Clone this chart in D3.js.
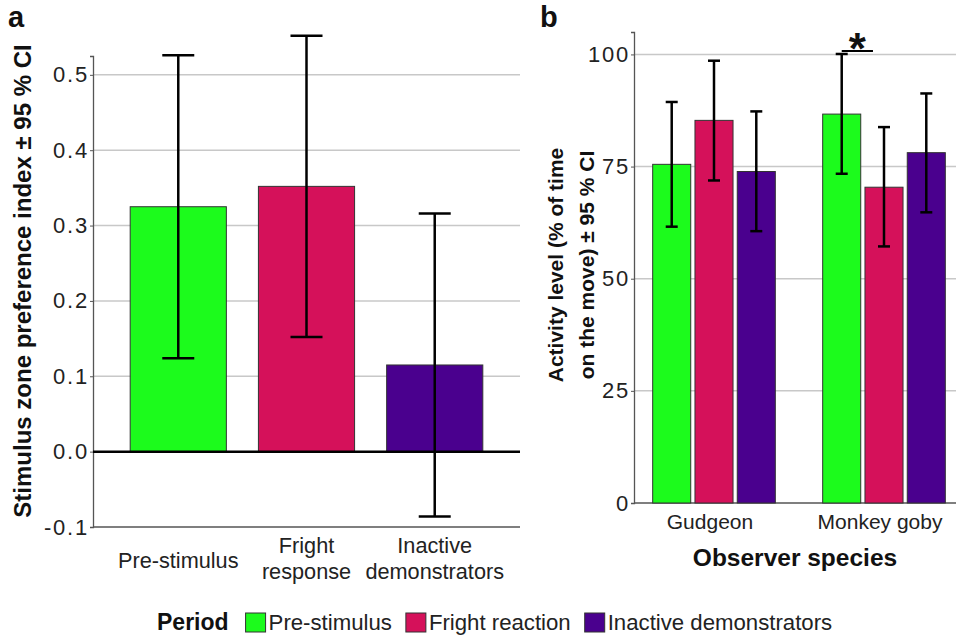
<!DOCTYPE html>
<html>
<head>
<meta charset="utf-8">
<script src="https://cdn.jsdelivr.net/npm/d3@7"></script>
<style>
  body { margin: 0; background: #fff; }
  svg { font-family: "Liberation Sans", Arial, sans-serif; }
  .tick text { font-size: 22px; fill: #222; letter-spacing: 1.8px; }
  .bold { font-weight: bold; fill: #111; }
</style>
</head>
<body>
<div id="chart"></div>
<script>
const width = 956;
const height = 636;

// panel a data
const periodsA = ['Pre-stimulus', 'Fright response', 'Inactive demonstrators'];
const prefMean = [0.325, 0.352, 0.115];
const prefLow = [0.124, 0.152, -0.086];
const prefHigh = [0.526, 0.552, 0.316];
const ticksA = [-0.1, 0.0, 0.1, 0.2, 0.3, 0.4, 0.5];

// panel b data
const species = ['Gudgeon', 'Monkey goby'];
const periods = ['Pre-stimulus', 'Fright reaction', 'Inactive demonstrators'];
const actMean = [[75.5, 85.3, 73.9], [86.7, 70.4, 78.1]];
const actLow = [[61.6, 71.9, 60.6], [73.4, 57.2, 64.8]];
const actHigh = [[89.4, 98.6, 87.3], [100.1, 83.8, 91.3]];
const ticksB = [0, 25, 50, 75, 100];

const colors = ['#1cfb1c', '#d5115a', '#4a008e'];

const svg = d3.select('#chart')
    .append('svg')
    .attr('width', width)
    .attr('height', height);

// ---------- panel a ----------
const xA = d3.scaleBand()
    .domain(periodsA)
    .range([93, 520])
    .paddingInner(0.25)
    .paddingOuter(0.29);
const yA = d3.scaleLinear()
    .domain([-0.1, 0.525])
    .range([527, 56]);

svg.append('g')
    .selectAll('line')
    .data(ticksA.filter(d => d > 0))
    .enter()
    .append('line')
    .attr('x1', 93).attr('x2', 520)
    .attr('y1', d => yA(d)).attr('y2', d => yA(d))
    .attr('stroke', '#c8c8c8')
    .attr('stroke-width', 1.5);

const yAxisA = d3.axisLeft(yA)
    .tickValues(ticksA)
    .tickFormat(d => d.toFixed(1))
    .tickSize(3)
    .tickPadding(1);
const yAxisAG = svg.append('g')
    .attr('transform', 'translate(93,0)')
    .call(yAxisA);
yAxisAG.select('.domain').attr('stroke', '#555').attr('stroke-width', 1.3);
yAxisAG.selectAll('.tick line').attr('stroke', '#555');

// bottom frame line
svg.append('line')
    .attr('x1', 93).attr('x2', 520)
    .attr('y1', yA(-0.1)).attr('y2', yA(-0.1))
    .attr('stroke', '#555').attr('stroke-width', 1.3);

svg.selectAll('.barA')
    .data(periodsA)
    .enter()
    .append('rect')
    .attr('class', 'barA')
    .attr('x', d => xA(d))
    .attr('width', xA.bandwidth())
    .attr('y', (d, i) => yA(prefMean[i]))
    .attr('height', (d, i) => yA(0) - yA(prefMean[i]))
    .attr('fill', (d, i) => colors[i])
    .attr('stroke', '#333')
    .attr('stroke-width', 1);

// zero line
svg.append('line')
    .attr('x1', 93).attr('x2', 520)
    .attr('y1', yA(0)).attr('y2', yA(0))
    .attr('stroke', '#000').attr('stroke-width', 2.5);

const errA = svg.append('g')
    .attr('stroke', '#000')
    .attr('stroke-width', 2.5);
periodsA.forEach(function (p, i) {
    const cx = xA(p) + xA.bandwidth() / 2;
    errA.append('line')
        .attr('x1', cx).attr('x2', cx)
        .attr('y1', yA(prefLow[i])).attr('y2', yA(prefHigh[i]));
    [prefLow[i], prefHigh[i]].forEach(function (v) {
        errA.append('line')
            .attr('x1', cx - 16).attr('x2', cx + 16)
            .attr('y1', yA(v)).attr('y2', yA(v));
    });
});

// category labels a
const labelsA = [['Pre-stimulus'], ['Fright', 'response'], ['Inactive', 'demonstrators']];
labelsA.forEach(function (lines, i) {
    const cx = xA(periodsA[i]) + xA.bandwidth() / 2;
    const t = svg.append('text')
        .attr('x', cx)
        .attr('text-anchor', 'middle')
        .attr('font-size', 21.7)
        .attr('fill', '#222');
    if (lines.length === 1) {
        t.attr('y', 568).text(lines[0]);
    } else {
        t.append('tspan').attr('x', cx).attr('y', 553).text(lines[0]);
        t.append('tspan').attr('x', cx).attr('y', 579).text(lines[1]);
    }
});

svg.append('text')
    .attr('class', 'bold')
    .attr('transform', 'translate(31,' + 281 + ') rotate(-90)')
    .attr('text-anchor', 'middle')
    .attr('font-size', 24)
    .text('Stimulus zone preference index ± 95 % CI');

svg.append('text')
    .attr('class', 'bold')
    .attr('x', 8).attr('y', 27)
    .attr('font-size', 29)
    .text('a');

// ---------- panel b ----------
const x0 = d3.scaleBand()
    .domain(species)
    .range([629, 969]);
const x1 = d3.scaleBand()
    .domain(periods)
    .range([0, x0.bandwidth()])
    .paddingInner(0.1)
    .paddingOuter(0.56);
const yB = d3.scaleLinear()
    .domain([0, 105])
    .range([503, 32]);

svg.append('g')
    .selectAll('line')
    .data(ticksB.filter(d => d > 0))
    .enter()
    .append('line')
    .attr('x1', 634).attr('x2', width)
    .attr('y1', d => yB(d)).attr('y2', d => yB(d))
    .attr('stroke', '#c8c8c8')
    .attr('stroke-width', 1.5);

const yAxisB = d3.axisLeft(yB)
    .tickValues(ticksB)
    .tickSize(3)
    .tickPadding(1);
const yAxisBG = svg.append('g')
    .attr('transform', 'translate(634,0)')
    .call(yAxisB);
yAxisBG.select('.domain').attr('stroke', '#555').attr('stroke-width', 1.3);
yAxisBG.selectAll('.tick line').attr('stroke', '#555');

svg.append('line')
    .attr('x1', 634).attr('x2', width)
    .attr('y1', yB(0)).attr('y2', yB(0))
    .attr('stroke', '#555').attr('stroke-width', 1.3);

species.forEach(function (s, si) {
    const g = svg.append('g')
        .attr('transform', 'translate(' + x0(s) + ',0)');
    g.selectAll('rect')
        .data(periods)
        .enter()
        .append('rect')
        .attr('x', d => x1(d))
        .attr('width', x1.bandwidth())
        .attr('y', (d, i) => yB(actMean[si][i]))
        .attr('height', (d, i) => yB(0) - yB(actMean[si][i]))
        .attr('fill', (d, i) => colors[i])
        .attr('stroke', '#333')
        .attr('stroke-width', 1);
    const e = g.append('g')
        .attr('stroke', '#000')
        .attr('stroke-width', 2.5);
    periods.forEach(function (p, i) {
        const cx = x1(p) + x1.bandwidth() / 2;
        e.append('line')
            .attr('x1', cx).attr('x2', cx)
            .attr('y1', yB(actLow[si][i])).attr('y2', yB(actHigh[si][i]));
        [actLow[si][i], actHigh[si][i]].forEach(function (v) {
            e.append('line')
                .attr('x1', cx - 6).attr('x2', cx + 6)
                .attr('y1', yB(v)).attr('y2', yB(v));
        });
    });
    svg.append('text')
        .attr('x', x0(s) + x0.bandwidth() / 2 - 4)
        .attr('y', 529)
        .attr('text-anchor', 'middle')
        .attr('font-size', 21)
        .attr('fill', '#222')
        .text(s);
});

// significance mark over monkey goby
const sigX1 = x0('Monkey goby') + x1('Pre-stimulus') + x1.bandwidth() / 2;
const sigX2 = x0('Monkey goby') + x1('Fright reaction');
svg.append('line')
    .attr('x1', sigX1).attr('x2', sigX2 + 8)
    .attr('y1', 51).attr('y2', 51)
    .attr('stroke', '#000').attr('stroke-width', 2);
svg.append('text')
    .attr('class', 'bold')
    .attr('x', (sigX1 + sigX2 + 8) / 2)
    .attr('y', 64)
    .attr('text-anchor', 'middle')
    .attr('font-size', 44)
    .text('*');

svg.append('text')
    .attr('class', 'bold')
    .attr('x', 795).attr('y', 566)
    .attr('text-anchor', 'middle')
    .attr('font-size', 24.5)
    .text('Observer species');

const yTitleB = svg.append('text')
    .attr('class', 'bold')
    .attr('transform', 'translate(0,265) rotate(-90)')
    .attr('text-anchor', 'middle')
    .attr('font-size', 21);
yTitleB.append('tspan').attr('x', 0).attr('y', 563).text('Activity level (% of time');
yTitleB.append('tspan').attr('x', 0).attr('y', 594).text('on the move) ± 95 % CI');

svg.append('text')
    .attr('class', 'bold')
    .attr('x', 540).attr('y', 27)
    .attr('font-size', 29)
    .text('b');

// ---------- legend ----------
const legend = svg.append('g');
const title = legend.append('text')
    .attr('class', 'bold')
    .attr('x', 157).attr('y', 630)
    .attr('font-size', 23)
    .text('Period');
let lx = 157 + title.node().getComputedTextLength() + 17;
periods.forEach(function (p, i) {
    legend.append('rect')
        .attr('x', lx).attr('y', 613)
        .attr('width', 20).attr('height', 19)
        .attr('fill', colors[i])
        .attr('stroke', '#333');
    const t = legend.append('text')
        .attr('x', lx + 23).attr('y', 630)
        .attr('font-size', 22.2)
        .attr('fill', '#222')
        .text(p);
    lx += 23 + t.node().getComputedTextLength() + 14;
});
</script>
</body>
</html>
